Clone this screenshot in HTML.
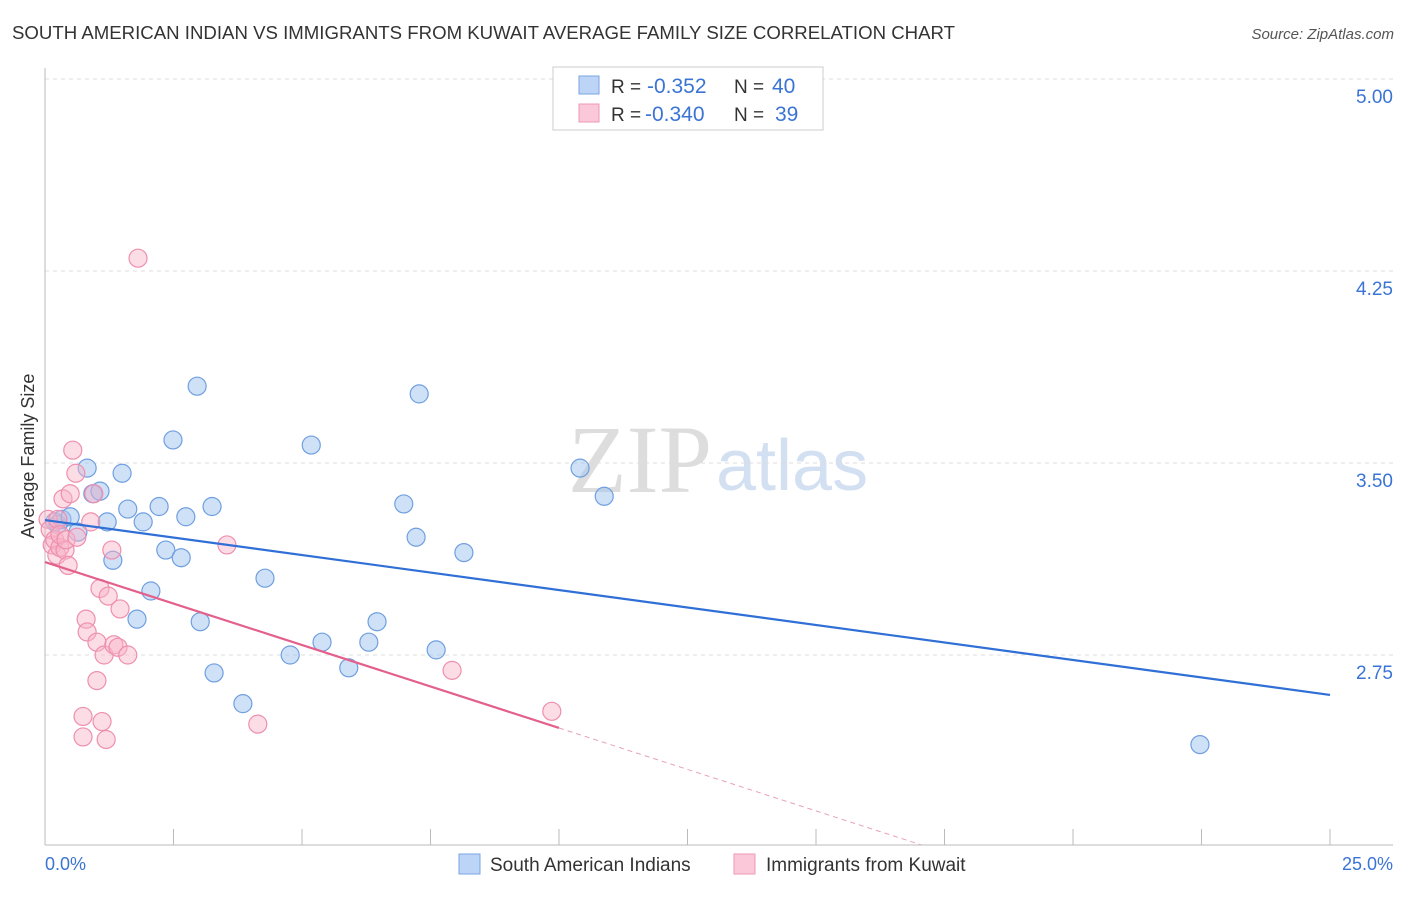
<!DOCTYPE html>
<html><head><meta charset="utf-8"><style>
body{margin:0;background:#fff;font-family:"Liberation Sans",sans-serif}
</style></head><body>
<svg width="1406" height="892" xmlns="http://www.w3.org/2000/svg" font-family="Liberation Sans, sans-serif">
<text x="12" y="39" font-size="18" fill="#333" textLength="943" lengthAdjust="spacingAndGlyphs">SOUTH AMERICAN INDIAN VS IMMIGRANTS FROM KUWAIT AVERAGE FAMILY SIZE CORRELATION CHART</text>
<text x="1394" y="39" font-size="15" fill="#555" font-style="italic" text-anchor="end">Source: ZipAtlas.com</text>
<text x="712" y="492" font-size="96" fill="#ddd" text-anchor="end" font-family="Liberation Serif, serif">ZIP</text>
<text x="716" y="490" font-size="72" fill="#d3e0f2">atlas</text>
<g id="grid"></g>
<line x1="45" y1="68" x2="45" y2="845" stroke="#bbb"/>
<line x1="45" y1="845" x2="1393" y2="845" stroke="#bbb"/>
<text x="34" y="456" font-size="18" fill="#333" text-anchor="middle" transform="rotate(-90 34 456)">Average Family Size</text>
<text x="45" y="870" font-size="18" fill="#3a74d4">0.0%</text>
<text x="1393" y="870" font-size="18" fill="#3a74d4" text-anchor="end">25.0%</text>
<g id="ticks"></g>
<g id="marks"></g>
<g>
<rect x="553" y="67" width="270" height="63" fill="#fff" stroke="#ccc"/>
<rect x="579" y="76" width="20" height="18" fill="#bcd4f5" stroke="#7aa6e6"/>
<rect x="579" y="104" width="20" height="18" fill="#fac8d8" stroke="#ee9ab5"/>
<text x="611" y="93" font-size="19" fill="#333">R =</text>
<text x="647" y="93" font-size="21" fill="#3a74d4">-0.352</text>
<text x="734" y="93" font-size="19" fill="#333">N =</text>
<text x="772" y="93" font-size="21" fill="#3a74d4">40</text>
<text x="611" y="121" font-size="19" fill="#333">R =</text>
<text x="645" y="121" font-size="21" fill="#3a74d4">-0.340</text>
<text x="734" y="121" font-size="19" fill="#333">N =</text>
<text x="775" y="121" font-size="21" fill="#3a74d4">39</text>
</g>
<g>
<rect x="459" y="854" width="21" height="20" fill="#bcd4f5" stroke="#7aa6e6"/>
<text x="490" y="871" font-size="19" fill="#333">South American Indians</text>
<rect x="734" y="854" width="21" height="20" fill="#fac8d8" stroke="#ee9ab5"/>
<text x="766" y="871" font-size="19" fill="#333">Immigrants from Kuwait</text>
</g>
</svg>
<script>
const yTicks=[2.75,3.50,4.25,5.00];
const yTickLabels=["2.75","3.50","4.25","5.00"];
const blueX=[0.19,0.25,0.33,0.49,0.64,0.82,0.93,1.07,1.21,1.32,1.50,1.61,1.79,1.91,2.06,2.22,2.35,2.49,2.65,2.74,2.96,3.02,3.25,3.29,3.85,4.28,4.77,5.18,5.39,5.91,6.30,6.46,6.98,7.22,7.28,7.61,8.15,10.41,10.88,22.47];
const blueY=[3.27,3.26,3.28,3.29,3.23,3.48,3.38,3.39,3.27,3.12,3.46,3.32,2.89,3.27,3.00,3.33,3.16,3.59,3.13,3.29,3.80,2.88,3.33,2.68,2.56,3.05,2.75,3.57,2.80,2.70,2.80,2.88,3.34,3.21,3.77,2.77,3.15,3.48,3.37,2.40];
const pinkX=[0.06,0.10,0.14,0.19,0.23,0.25,0.29,0.29,0.35,0.39,0.41,0.45,0.49,0.54,0.60,0.62,0.74,0.74,0.80,0.82,0.89,0.95,1.01,1.01,1.07,1.11,1.15,1.19,1.23,1.30,1.34,1.42,1.46,1.61,1.81,3.54,4.14,7.92,9.86];
const pinkY=[3.28,3.24,3.18,3.20,3.14,3.28,3.17,3.22,3.36,3.16,3.20,3.10,3.38,3.55,3.46,3.21,2.51,2.43,2.89,2.84,3.27,3.38,2.80,2.65,3.01,2.49,2.75,2.42,2.98,3.16,2.79,2.78,2.93,2.75,4.30,3.18,2.48,2.69,2.53];
const blueTrend=[3.277,2.594];
const pinkTrend=[3.113,2.465];
const pinkSolidEnd=10.0;
const xMax=25;
const sx=v=>45+v*51.4;
const sy=v=>463-(v-3.5)*256;
const NS="http://www.w3.org/2000/svg";
function mk(t,a,p){const e=document.createElementNS(NS,t);for(const k in a)e.setAttribute(k,a[k]);p.appendChild(e);return e;}
const grid=document.getElementById('grid'),ticks=document.getElementById('ticks'),marks=document.getElementById('marks');
yTicks.forEach((v,i)=>{
 const l=mk('line',{x1:45,x2:1393,y1:sy(v),y2:sy(v),stroke:'#ddd','stroke-dasharray':'4,4'},grid);
 
 
 const t=mk('text',{x:1393,y:sy(v)+24,'font-size':19,fill:'#3a74d4','text-anchor':'end'},ticks);
 t.textContent=yTickLabels[i];
 
 
});
for(let i=0;i<=10;i++){
 const x=sx(i*2.5);
 const l=mk('line',{x1:x,x2:x,y1:829,y2:845,stroke:'#bbb'},ticks);
 
 
}
function pts(X,Y,fill,stroke,name){X.forEach((x,i)=>{
 const c=mk('circle',{cx:sx(x),cy:sy(Y[i]),r:9,fill:fill,stroke:stroke,'stroke-width':1.2},marks);
 
 
});}
pts(blueX,blueY,'rgba(160,195,240,0.5)','#6f9fe0','point-south-american-indian');
pts(pinkX,pinkY,'rgba(248,180,200,0.45)','#ee8fae','point-kuwait');
const bl=mk('line',{x1:sx(0),y1:sy(blueTrend[0]),x2:sx(xMax),y2:sy(blueTrend[1]),stroke:'#2f6fd6','stroke-width':2.2},marks);


const ps=(pinkTrend[1]-pinkTrend[0])/pinkSolidEnd;
const pl=mk('line',{x1:sx(0),y1:sy(pinkTrend[0]),x2:sx(pinkSolidEnd),y2:sy(pinkTrend[1]),stroke:'#e4608c','stroke-width':2.2},marks);


const yEnd=2.008,xEnd=(yEnd-pinkTrend[0])/ps;
const pd=mk('line',{x1:sx(pinkSolidEnd),y1:sy(pinkTrend[1]),x2:sx(xEnd),y2:sy(yEnd),stroke:'#e8a0b8','stroke-width':1,'stroke-dasharray':'5,4'},marks);


</script>
</body></html>
